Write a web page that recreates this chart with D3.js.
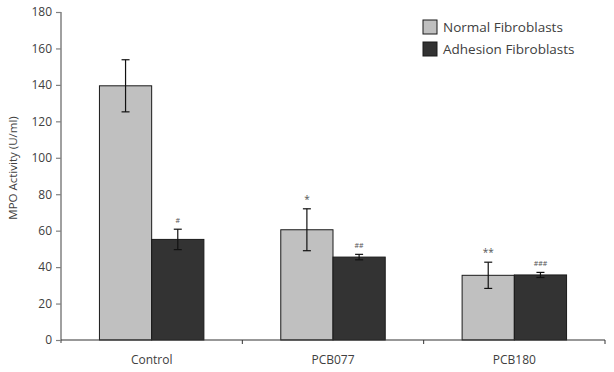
<!DOCTYPE html>
<html><head><meta charset="utf-8">
<script src="https://cdn.jsdelivr.net/npm/d3@7"></script>
<style>body{margin:0;background:#fff}svg{display:block}</style>
</head><body><svg id="c" width="614" height="372"></svg>
<script>
const categories = ["Control", "PCB077", "PCB180"];
const seriesNames = ["Normal Fibroblasts", "Adhesion Fibroblasts"];
const normalValues = [139.5, 60.5, 35.5];
const normalErrors = [14.3, 11.5, 7.2];
const adhesionValues = [55.2, 45.5, 35.7];
const adhesionErrors = [5.6, 1.5, 1.4];
const normalMarks = ["", "*", "**"];
const adhesionMarks = ["#", "##", "###"];
const yTicks = [0, 20, 40, 60, 80, 100, 120, 140, 160, 180];

const svg = d3.select("#c");
const font = "'Open Sans', sans-serif";
const x0 = 61, x1 = 605, yTop = 12, yBot = 340;
const x = d3.scaleBand().domain(categories).range([x0, x1]).paddingInner(0).paddingOuter(0);
const y = d3.scaleLinear().domain([0, 180]).range([yBot, yTop]);
const barW = x.bandwidth() * 0.288;
const colors = ["#c0c0c0", "#333333"];

const series = [
  {vals: normalValues, errs: normalErrors, marks: normalMarks, off: -1},
  {vals: adhesionValues, errs: adhesionErrors, marks: adhesionMarks, off: 0}
];

series.forEach((s, si) => {
  const g = svg.append("g");
  categories.forEach((c, i) => {
    const cx = x(c) + x.bandwidth() / 2;
    const bx = cx + s.off * barW;
    g.append("rect").attr("x", bx).attr("y", y(s.vals[i]))
      .attr("width", barW).attr("height", y(0) - y(s.vals[i]))
      .attr("fill", colors[si]).attr("stroke", "#1a1a1a").attr("stroke-width", 1);
    const ex = bx + barW / 2;
    const top = y(s.vals[i] + s.errs[i]), bot = y(s.vals[i] - s.errs[i]);
    g.append("line").attr("x1", ex).attr("x2", ex).attr("y1", top).attr("y2", bot)
      .attr("stroke", "#111").attr("stroke-width", 1.2);
    [top, bot].forEach(yy => g.append("line").attr("x1", ex - 4).attr("x2", ex + 4)
      .attr("y1", yy).attr("y2", yy).attr("stroke", "#111").attr("stroke-width", 1.2));
    if (s.marks[i]) {
      g.append("text").attr("x", ex).attr("y", top - 6)
        .attr("text-anchor", "middle").attr("font-family", font)
        .attr("font-size", s.marks[i].includes("#") ? 7 : 10)
        .attr("fill", "#555").text(s.marks[i]);
    }
  });
});

// y axis
const ya = svg.append("g").attr("transform", `translate(${x0},0)`)
  .call(d3.axisLeft(y).tickValues(yTicks).tickSize(5).tickPadding(4));
ya.select(".domain").attr("stroke", "#808080").attr("stroke-width", 1.5)
  .attr("d", `M0,${yTop}V${yBot + 3}`);
ya.selectAll(".tick line").attr("stroke", "#808080").attr("stroke-width", 1.2);
ya.selectAll(".tick text").attr("font-family", font).attr("font-size", 12).attr("fill", "#404040");

// x axis
const xa = svg.append("g").attr("transform", `translate(0,${yBot})`);
xa.append("line").attr("x1", x0).attr("x2", x1).attr("y1", 0).attr("y2", 0)
  .attr("stroke", "#333").attr("stroke-width", 1.2);
categories.forEach((c, i) => {
  const bx = x(c) + x.bandwidth();
  xa.append("line").attr("x1", bx).attr("x2", bx).attr("y1", 0).attr("y2", 4)
    .attr("stroke", "#333").attr("stroke-width", 1);
  xa.append("text").attr("x", x(c) + x.bandwidth() / 2).attr("y", 24)
    .attr("text-anchor", "middle").attr("font-family", font).attr("font-size", 12)
    .attr("fill", "#404040").text(c);
});

// y label
svg.append("text").attr("transform", "translate(17,168) rotate(-90)")
  .attr("text-anchor", "middle").attr("font-family", font).attr("font-size", 11.5)
  .attr("fill", "#404040").text("MPO Activity (U/ml)");

// legend
seriesNames.forEach((n, i) => {
  const ly = 20 + i * 22;
  svg.append("rect").attr("x", 423).attr("y", ly).attr("width", 14).attr("height", 14)
    .attr("fill", colors[i]).attr("stroke", "#1a1a1a");
  svg.append("text").attr("x", 443).attr("y", ly + 12).attr("font-family", font)
    .attr("font-size", 13.5).attr("fill", "#404040").text(n);
});
</script></body></html>
